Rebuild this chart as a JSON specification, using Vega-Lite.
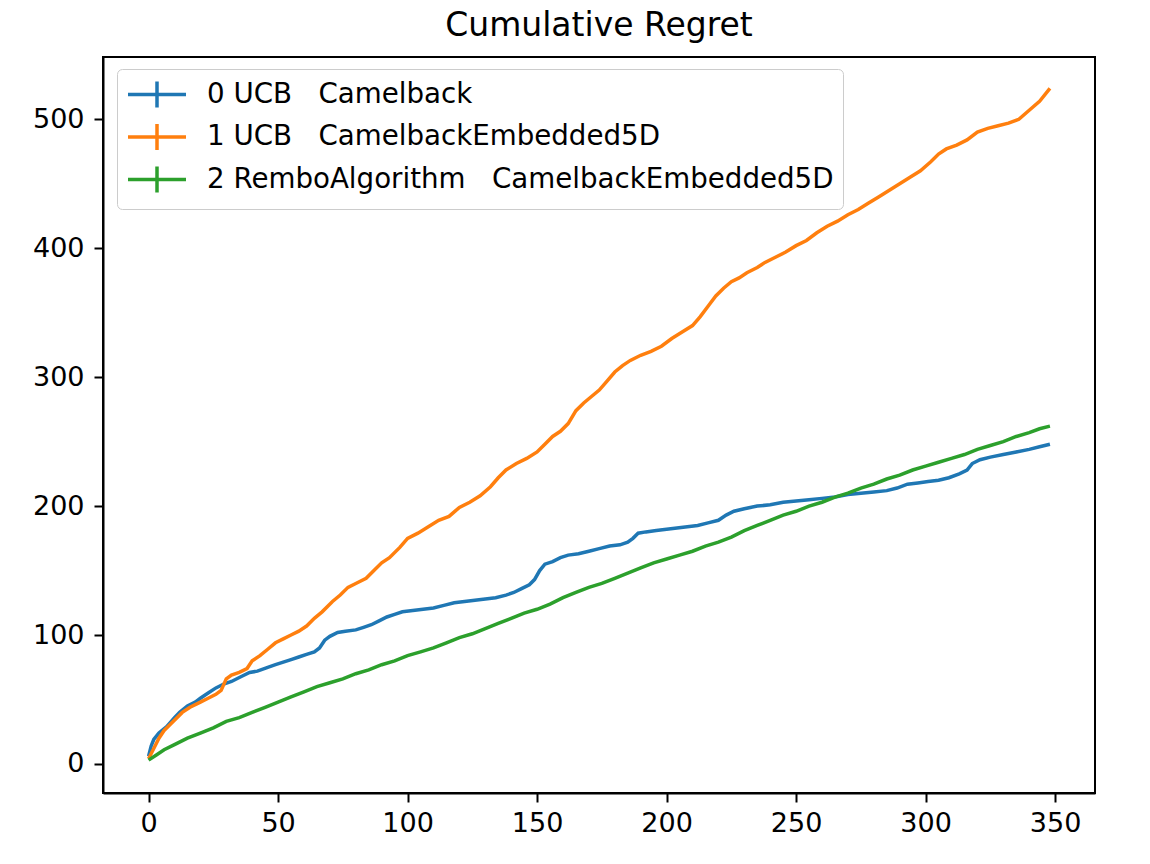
{
  "$schema": "https://vega.github.io/schema/vega-lite/v6.json",
  "width": 992,
  "height": 736,
  "autosize": {"type": "none"},
  "padding": {"left": 103, "top": 57, "right": 55, "bottom": 71},
  "background": "white",
  "title": {"text": "Cumulative Regret", "font": "DejaVu Sans", "fontSize": 33, "fontWeight": "normal", "color": "black", "anchor": "middle", "frame": "group", "offset": 14},
  "config": {
    "view": {"stroke": "black", "strokeWidth": 2},
    "axis": {"domainColor": "black", "domainWidth": 2, "tickColor": "black", "tickWidth": 2, "tickSize": 9, "labelFont": "DejaVu Sans", "labelFontSize": 27, "labelColor": "black", "grid": false, "title": null}
  },
  "data": {"values": [
    {"x":0,"y":6,"s":"0 UCB\u00a0\u00a0\u00a0Camelback"},{"x":1,"y":14,"s":"0 UCB\u00a0\u00a0\u00a0Camelback"},{"x":2,"y":19,"s":"0 UCB\u00a0\u00a0\u00a0Camelback"},{"x":4,"y":24,"s":"0 UCB\u00a0\u00a0\u00a0Camelback"},{"x":7,"y":29,"s":"0 UCB\u00a0\u00a0\u00a0Camelback"},{"x":10,"y":36,"s":"0 UCB\u00a0\u00a0\u00a0Camelback"},{"x":12,"y":40,"s":"0 UCB\u00a0\u00a0\u00a0Camelback"},{"x":15,"y":45,"s":"0 UCB\u00a0\u00a0\u00a0Camelback"},{"x":18,"y":48,"s":"0 UCB\u00a0\u00a0\u00a0Camelback"},{"x":20,"y":51,"s":"0 UCB\u00a0\u00a0\u00a0Camelback"},{"x":23,"y":55,"s":"0 UCB\u00a0\u00a0\u00a0Camelback"},{"x":26,"y":59,"s":"0 UCB\u00a0\u00a0\u00a0Camelback"},{"x":29,"y":62,"s":"0 UCB\u00a0\u00a0\u00a0Camelback"},{"x":32,"y":64,"s":"0 UCB\u00a0\u00a0\u00a0Camelback"},{"x":36,"y":68,"s":"0 UCB\u00a0\u00a0\u00a0Camelback"},{"x":39,"y":71,"s":"0 UCB\u00a0\u00a0\u00a0Camelback"},{"x":42,"y":72,"s":"0 UCB\u00a0\u00a0\u00a0Camelback"},{"x":46,"y":75,"s":"0 UCB\u00a0\u00a0\u00a0Camelback"},{"x":49,"y":77,"s":"0 UCB\u00a0\u00a0\u00a0Camelback"},{"x":52,"y":79,"s":"0 UCB\u00a0\u00a0\u00a0Camelback"},{"x":55,"y":81,"s":"0 UCB\u00a0\u00a0\u00a0Camelback"},{"x":58,"y":83,"s":"0 UCB\u00a0\u00a0\u00a0Camelback"},{"x":61,"y":85,"s":"0 UCB\u00a0\u00a0\u00a0Camelback"},{"x":64,"y":87,"s":"0 UCB\u00a0\u00a0\u00a0Camelback"},{"x":66,"y":90,"s":"0 UCB\u00a0\u00a0\u00a0Camelback"},{"x":68,"y":96,"s":"0 UCB\u00a0\u00a0\u00a0Camelback"},{"x":70,"y":99,"s":"0 UCB\u00a0\u00a0\u00a0Camelback"},{"x":73,"y":102,"s":"0 UCB\u00a0\u00a0\u00a0Camelback"},{"x":76,"y":103,"s":"0 UCB\u00a0\u00a0\u00a0Camelback"},{"x":80,"y":104,"s":"0 UCB\u00a0\u00a0\u00a0Camelback"},{"x":83,"y":106,"s":"0 UCB\u00a0\u00a0\u00a0Camelback"},{"x":86,"y":108,"s":"0 UCB\u00a0\u00a0\u00a0Camelback"},{"x":89,"y":111,"s":"0 UCB\u00a0\u00a0\u00a0Camelback"},{"x":92,"y":114,"s":"0 UCB\u00a0\u00a0\u00a0Camelback"},{"x":95,"y":116,"s":"0 UCB\u00a0\u00a0\u00a0Camelback"},{"x":98,"y":118,"s":"0 UCB\u00a0\u00a0\u00a0Camelback"},{"x":102,"y":119,"s":"0 UCB\u00a0\u00a0\u00a0Camelback"},{"x":106,"y":120,"s":"0 UCB\u00a0\u00a0\u00a0Camelback"},{"x":110,"y":121,"s":"0 UCB\u00a0\u00a0\u00a0Camelback"},{"x":114,"y":123,"s":"0 UCB\u00a0\u00a0\u00a0Camelback"},{"x":118,"y":125,"s":"0 UCB\u00a0\u00a0\u00a0Camelback"},{"x":122,"y":126,"s":"0 UCB\u00a0\u00a0\u00a0Camelback"},{"x":126,"y":127,"s":"0 UCB\u00a0\u00a0\u00a0Camelback"},{"x":130,"y":128,"s":"0 UCB\u00a0\u00a0\u00a0Camelback"},{"x":134,"y":129,"s":"0 UCB\u00a0\u00a0\u00a0Camelback"},{"x":138,"y":131,"s":"0 UCB\u00a0\u00a0\u00a0Camelback"},{"x":141,"y":133,"s":"0 UCB\u00a0\u00a0\u00a0Camelback"},{"x":144,"y":136,"s":"0 UCB\u00a0\u00a0\u00a0Camelback"},{"x":147,"y":139,"s":"0 UCB\u00a0\u00a0\u00a0Camelback"},{"x":149,"y":143,"s":"0 UCB\u00a0\u00a0\u00a0Camelback"},{"x":151,"y":150,"s":"0 UCB\u00a0\u00a0\u00a0Camelback"},{"x":153,"y":155,"s":"0 UCB\u00a0\u00a0\u00a0Camelback"},{"x":156,"y":157,"s":"0 UCB\u00a0\u00a0\u00a0Camelback"},{"x":159,"y":160,"s":"0 UCB\u00a0\u00a0\u00a0Camelback"},{"x":162,"y":162,"s":"0 UCB\u00a0\u00a0\u00a0Camelback"},{"x":166,"y":163,"s":"0 UCB\u00a0\u00a0\u00a0Camelback"},{"x":170,"y":165,"s":"0 UCB\u00a0\u00a0\u00a0Camelback"},{"x":174,"y":167,"s":"0 UCB\u00a0\u00a0\u00a0Camelback"},{"x":178,"y":169,"s":"0 UCB\u00a0\u00a0\u00a0Camelback"},{"x":182,"y":170,"s":"0 UCB\u00a0\u00a0\u00a0Camelback"},{"x":185,"y":172,"s":"0 UCB\u00a0\u00a0\u00a0Camelback"},{"x":187,"y":175,"s":"0 UCB\u00a0\u00a0\u00a0Camelback"},{"x":189,"y":179,"s":"0 UCB\u00a0\u00a0\u00a0Camelback"},{"x":192,"y":180,"s":"0 UCB\u00a0\u00a0\u00a0Camelback"},{"x":196,"y":181,"s":"0 UCB\u00a0\u00a0\u00a0Camelback"},{"x":200,"y":182,"s":"0 UCB\u00a0\u00a0\u00a0Camelback"},{"x":204,"y":183,"s":"0 UCB\u00a0\u00a0\u00a0Camelback"},{"x":208,"y":184,"s":"0 UCB\u00a0\u00a0\u00a0Camelback"},{"x":212,"y":185,"s":"0 UCB\u00a0\u00a0\u00a0Camelback"},{"x":216,"y":187,"s":"0 UCB\u00a0\u00a0\u00a0Camelback"},{"x":220,"y":189,"s":"0 UCB\u00a0\u00a0\u00a0Camelback"},{"x":223,"y":193,"s":"0 UCB\u00a0\u00a0\u00a0Camelback"},{"x":226,"y":196,"s":"0 UCB\u00a0\u00a0\u00a0Camelback"},{"x":230,"y":198,"s":"0 UCB\u00a0\u00a0\u00a0Camelback"},{"x":235,"y":200,"s":"0 UCB\u00a0\u00a0\u00a0Camelback"},{"x":240,"y":201,"s":"0 UCB\u00a0\u00a0\u00a0Camelback"},{"x":245,"y":203,"s":"0 UCB\u00a0\u00a0\u00a0Camelback"},{"x":250,"y":204,"s":"0 UCB\u00a0\u00a0\u00a0Camelback"},{"x":255,"y":205,"s":"0 UCB\u00a0\u00a0\u00a0Camelback"},{"x":260,"y":206,"s":"0 UCB\u00a0\u00a0\u00a0Camelback"},{"x":265,"y":207,"s":"0 UCB\u00a0\u00a0\u00a0Camelback"},{"x":270,"y":209,"s":"0 UCB\u00a0\u00a0\u00a0Camelback"},{"x":275,"y":210,"s":"0 UCB\u00a0\u00a0\u00a0Camelback"},{"x":280,"y":211,"s":"0 UCB\u00a0\u00a0\u00a0Camelback"},{"x":285,"y":212,"s":"0 UCB\u00a0\u00a0\u00a0Camelback"},{"x":289,"y":214,"s":"0 UCB\u00a0\u00a0\u00a0Camelback"},{"x":293,"y":217,"s":"0 UCB\u00a0\u00a0\u00a0Camelback"},{"x":297,"y":218,"s":"0 UCB\u00a0\u00a0\u00a0Camelback"},{"x":301,"y":219,"s":"0 UCB\u00a0\u00a0\u00a0Camelback"},{"x":305,"y":220,"s":"0 UCB\u00a0\u00a0\u00a0Camelback"},{"x":309,"y":222,"s":"0 UCB\u00a0\u00a0\u00a0Camelback"},{"x":313,"y":225,"s":"0 UCB\u00a0\u00a0\u00a0Camelback"},{"x":316,"y":228,"s":"0 UCB\u00a0\u00a0\u00a0Camelback"},{"x":318,"y":233,"s":"0 UCB\u00a0\u00a0\u00a0Camelback"},{"x":321,"y":236,"s":"0 UCB\u00a0\u00a0\u00a0Camelback"},{"x":325,"y":238,"s":"0 UCB\u00a0\u00a0\u00a0Camelback"},{"x":330,"y":240,"s":"0 UCB\u00a0\u00a0\u00a0Camelback"},{"x":335,"y":242,"s":"0 UCB\u00a0\u00a0\u00a0Camelback"},{"x":340,"y":244,"s":"0 UCB\u00a0\u00a0\u00a0Camelback"},{"x":344,"y":246,"s":"0 UCB\u00a0\u00a0\u00a0Camelback"},{"x":348,"y":248,"s":"0 UCB\u00a0\u00a0\u00a0Camelback"},
    {"x":0,"y":4,"s":"1 UCB\u00a0\u00a0\u00a0CamelbackEmbedded5D"},{"x":2,"y":12,"s":"1 UCB\u00a0\u00a0\u00a0CamelbackEmbedded5D"},{"x":4,"y":20,"s":"1 UCB\u00a0\u00a0\u00a0CamelbackEmbedded5D"},{"x":6,"y":26,"s":"1 UCB\u00a0\u00a0\u00a0CamelbackEmbedded5D"},{"x":9,"y":32,"s":"1 UCB\u00a0\u00a0\u00a0CamelbackEmbedded5D"},{"x":13,"y":40,"s":"1 UCB\u00a0\u00a0\u00a0CamelbackEmbedded5D"},{"x":16,"y":44,"s":"1 UCB\u00a0\u00a0\u00a0CamelbackEmbedded5D"},{"x":20,"y":48,"s":"1 UCB\u00a0\u00a0\u00a0CamelbackEmbedded5D"},{"x":23,"y":51,"s":"1 UCB\u00a0\u00a0\u00a0CamelbackEmbedded5D"},{"x":26,"y":54,"s":"1 UCB\u00a0\u00a0\u00a0CamelbackEmbedded5D"},{"x":28,"y":57,"s":"1 UCB\u00a0\u00a0\u00a0CamelbackEmbedded5D"},{"x":30,"y":66,"s":"1 UCB\u00a0\u00a0\u00a0CamelbackEmbedded5D"},{"x":32,"y":69,"s":"1 UCB\u00a0\u00a0\u00a0CamelbackEmbedded5D"},{"x":35,"y":71,"s":"1 UCB\u00a0\u00a0\u00a0CamelbackEmbedded5D"},{"x":38,"y":74,"s":"1 UCB\u00a0\u00a0\u00a0CamelbackEmbedded5D"},{"x":40,"y":80,"s":"1 UCB\u00a0\u00a0\u00a0CamelbackEmbedded5D"},{"x":43,"y":84,"s":"1 UCB\u00a0\u00a0\u00a0CamelbackEmbedded5D"},{"x":46,"y":89,"s":"1 UCB\u00a0\u00a0\u00a0CamelbackEmbedded5D"},{"x":49,"y":94,"s":"1 UCB\u00a0\u00a0\u00a0CamelbackEmbedded5D"},{"x":52,"y":97,"s":"1 UCB\u00a0\u00a0\u00a0CamelbackEmbedded5D"},{"x":55,"y":100,"s":"1 UCB\u00a0\u00a0\u00a0CamelbackEmbedded5D"},{"x":58,"y":103,"s":"1 UCB\u00a0\u00a0\u00a0CamelbackEmbedded5D"},{"x":61,"y":107,"s":"1 UCB\u00a0\u00a0\u00a0CamelbackEmbedded5D"},{"x":64,"y":113,"s":"1 UCB\u00a0\u00a0\u00a0CamelbackEmbedded5D"},{"x":67,"y":118,"s":"1 UCB\u00a0\u00a0\u00a0CamelbackEmbedded5D"},{"x":71,"y":126,"s":"1 UCB\u00a0\u00a0\u00a0CamelbackEmbedded5D"},{"x":74,"y":131,"s":"1 UCB\u00a0\u00a0\u00a0CamelbackEmbedded5D"},{"x":77,"y":137,"s":"1 UCB\u00a0\u00a0\u00a0CamelbackEmbedded5D"},{"x":80,"y":140,"s":"1 UCB\u00a0\u00a0\u00a0CamelbackEmbedded5D"},{"x":84,"y":144,"s":"1 UCB\u00a0\u00a0\u00a0CamelbackEmbedded5D"},{"x":87,"y":150,"s":"1 UCB\u00a0\u00a0\u00a0CamelbackEmbedded5D"},{"x":90,"y":156,"s":"1 UCB\u00a0\u00a0\u00a0CamelbackEmbedded5D"},{"x":93,"y":160,"s":"1 UCB\u00a0\u00a0\u00a0CamelbackEmbedded5D"},{"x":97,"y":168,"s":"1 UCB\u00a0\u00a0\u00a0CamelbackEmbedded5D"},{"x":100,"y":175,"s":"1 UCB\u00a0\u00a0\u00a0CamelbackEmbedded5D"},{"x":104,"y":179,"s":"1 UCB\u00a0\u00a0\u00a0CamelbackEmbedded5D"},{"x":108,"y":184,"s":"1 UCB\u00a0\u00a0\u00a0CamelbackEmbedded5D"},{"x":112,"y":189,"s":"1 UCB\u00a0\u00a0\u00a0CamelbackEmbedded5D"},{"x":116,"y":192,"s":"1 UCB\u00a0\u00a0\u00a0CamelbackEmbedded5D"},{"x":120,"y":199,"s":"1 UCB\u00a0\u00a0\u00a0CamelbackEmbedded5D"},{"x":124,"y":203,"s":"1 UCB\u00a0\u00a0\u00a0CamelbackEmbedded5D"},{"x":128,"y":208,"s":"1 UCB\u00a0\u00a0\u00a0CamelbackEmbedded5D"},{"x":132,"y":215,"s":"1 UCB\u00a0\u00a0\u00a0CamelbackEmbedded5D"},{"x":135,"y":222,"s":"1 UCB\u00a0\u00a0\u00a0CamelbackEmbedded5D"},{"x":138,"y":228,"s":"1 UCB\u00a0\u00a0\u00a0CamelbackEmbedded5D"},{"x":142,"y":233,"s":"1 UCB\u00a0\u00a0\u00a0CamelbackEmbedded5D"},{"x":146,"y":237,"s":"1 UCB\u00a0\u00a0\u00a0CamelbackEmbedded5D"},{"x":150,"y":242,"s":"1 UCB\u00a0\u00a0\u00a0CamelbackEmbedded5D"},{"x":153,"y":248,"s":"1 UCB\u00a0\u00a0\u00a0CamelbackEmbedded5D"},{"x":156,"y":254,"s":"1 UCB\u00a0\u00a0\u00a0CamelbackEmbedded5D"},{"x":159,"y":258,"s":"1 UCB\u00a0\u00a0\u00a0CamelbackEmbedded5D"},{"x":162,"y":264,"s":"1 UCB\u00a0\u00a0\u00a0CamelbackEmbedded5D"},{"x":165,"y":274,"s":"1 UCB\u00a0\u00a0\u00a0CamelbackEmbedded5D"},{"x":168,"y":280,"s":"1 UCB\u00a0\u00a0\u00a0CamelbackEmbedded5D"},{"x":171,"y":285,"s":"1 UCB\u00a0\u00a0\u00a0CamelbackEmbedded5D"},{"x":174,"y":290,"s":"1 UCB\u00a0\u00a0\u00a0CamelbackEmbedded5D"},{"x":177,"y":297,"s":"1 UCB\u00a0\u00a0\u00a0CamelbackEmbedded5D"},{"x":180,"y":304,"s":"1 UCB\u00a0\u00a0\u00a0CamelbackEmbedded5D"},{"x":183,"y":309,"s":"1 UCB\u00a0\u00a0\u00a0CamelbackEmbedded5D"},{"x":186,"y":313,"s":"1 UCB\u00a0\u00a0\u00a0CamelbackEmbedded5D"},{"x":190,"y":317,"s":"1 UCB\u00a0\u00a0\u00a0CamelbackEmbedded5D"},{"x":194,"y":320,"s":"1 UCB\u00a0\u00a0\u00a0CamelbackEmbedded5D"},{"x":198,"y":324,"s":"1 UCB\u00a0\u00a0\u00a0CamelbackEmbedded5D"},{"x":202,"y":330,"s":"1 UCB\u00a0\u00a0\u00a0CamelbackEmbedded5D"},{"x":206,"y":335,"s":"1 UCB\u00a0\u00a0\u00a0CamelbackEmbedded5D"},{"x":210,"y":340,"s":"1 UCB\u00a0\u00a0\u00a0CamelbackEmbedded5D"},{"x":213,"y":347,"s":"1 UCB\u00a0\u00a0\u00a0CamelbackEmbedded5D"},{"x":216,"y":355,"s":"1 UCB\u00a0\u00a0\u00a0CamelbackEmbedded5D"},{"x":219,"y":363,"s":"1 UCB\u00a0\u00a0\u00a0CamelbackEmbedded5D"},{"x":222,"y":369,"s":"1 UCB\u00a0\u00a0\u00a0CamelbackEmbedded5D"},{"x":225,"y":374,"s":"1 UCB\u00a0\u00a0\u00a0CamelbackEmbedded5D"},{"x":228,"y":377,"s":"1 UCB\u00a0\u00a0\u00a0CamelbackEmbedded5D"},{"x":231,"y":381,"s":"1 UCB\u00a0\u00a0\u00a0CamelbackEmbedded5D"},{"x":235,"y":385,"s":"1 UCB\u00a0\u00a0\u00a0CamelbackEmbedded5D"},{"x":238,"y":389,"s":"1 UCB\u00a0\u00a0\u00a0CamelbackEmbedded5D"},{"x":242,"y":393,"s":"1 UCB\u00a0\u00a0\u00a0CamelbackEmbedded5D"},{"x":246,"y":397,"s":"1 UCB\u00a0\u00a0\u00a0CamelbackEmbedded5D"},{"x":250,"y":402,"s":"1 UCB\u00a0\u00a0\u00a0CamelbackEmbedded5D"},{"x":254,"y":406,"s":"1 UCB\u00a0\u00a0\u00a0CamelbackEmbedded5D"},{"x":258,"y":412,"s":"1 UCB\u00a0\u00a0\u00a0CamelbackEmbedded5D"},{"x":262,"y":417,"s":"1 UCB\u00a0\u00a0\u00a0CamelbackEmbedded5D"},{"x":266,"y":421,"s":"1 UCB\u00a0\u00a0\u00a0CamelbackEmbedded5D"},{"x":270,"y":426,"s":"1 UCB\u00a0\u00a0\u00a0CamelbackEmbedded5D"},{"x":274,"y":430,"s":"1 UCB\u00a0\u00a0\u00a0CamelbackEmbedded5D"},{"x":278,"y":435,"s":"1 UCB\u00a0\u00a0\u00a0CamelbackEmbedded5D"},{"x":282,"y":440,"s":"1 UCB\u00a0\u00a0\u00a0CamelbackEmbedded5D"},{"x":286,"y":445,"s":"1 UCB\u00a0\u00a0\u00a0CamelbackEmbedded5D"},{"x":290,"y":450,"s":"1 UCB\u00a0\u00a0\u00a0CamelbackEmbedded5D"},{"x":294,"y":455,"s":"1 UCB\u00a0\u00a0\u00a0CamelbackEmbedded5D"},{"x":298,"y":460,"s":"1 UCB\u00a0\u00a0\u00a0CamelbackEmbedded5D"},{"x":302,"y":467,"s":"1 UCB\u00a0\u00a0\u00a0CamelbackEmbedded5D"},{"x":305,"y":473,"s":"1 UCB\u00a0\u00a0\u00a0CamelbackEmbedded5D"},{"x":308,"y":477,"s":"1 UCB\u00a0\u00a0\u00a0CamelbackEmbedded5D"},{"x":312,"y":480,"s":"1 UCB\u00a0\u00a0\u00a0CamelbackEmbedded5D"},{"x":316,"y":484,"s":"1 UCB\u00a0\u00a0\u00a0CamelbackEmbedded5D"},{"x":320,"y":490,"s":"1 UCB\u00a0\u00a0\u00a0CamelbackEmbedded5D"},{"x":324,"y":493,"s":"1 UCB\u00a0\u00a0\u00a0CamelbackEmbedded5D"},{"x":328,"y":495,"s":"1 UCB\u00a0\u00a0\u00a0CamelbackEmbedded5D"},{"x":332,"y":497,"s":"1 UCB\u00a0\u00a0\u00a0CamelbackEmbedded5D"},{"x":336,"y":500,"s":"1 UCB\u00a0\u00a0\u00a0CamelbackEmbedded5D"},{"x":340,"y":507,"s":"1 UCB\u00a0\u00a0\u00a0CamelbackEmbedded5D"},{"x":344,"y":514,"s":"1 UCB\u00a0\u00a0\u00a0CamelbackEmbedded5D"},{"x":348,"y":524,"s":"1 UCB\u00a0\u00a0\u00a0CamelbackEmbedded5D"},
    {"x":0,"y":3,"s":"2 RemboAlgorithm\u00a0\u00a0\u00a0CamelbackEmbedded5D"},{"x":3,"y":7,"s":"2 RemboAlgorithm\u00a0\u00a0\u00a0CamelbackEmbedded5D"},{"x":6,"y":11,"s":"2 RemboAlgorithm\u00a0\u00a0\u00a0CamelbackEmbedded5D"},{"x":10,"y":15,"s":"2 RemboAlgorithm\u00a0\u00a0\u00a0CamelbackEmbedded5D"},{"x":15,"y":20,"s":"2 RemboAlgorithm\u00a0\u00a0\u00a0CamelbackEmbedded5D"},{"x":20,"y":24,"s":"2 RemboAlgorithm\u00a0\u00a0\u00a0CamelbackEmbedded5D"},{"x":25,"y":28,"s":"2 RemboAlgorithm\u00a0\u00a0\u00a0CamelbackEmbedded5D"},{"x":30,"y":33,"s":"2 RemboAlgorithm\u00a0\u00a0\u00a0CamelbackEmbedded5D"},{"x":35,"y":36,"s":"2 RemboAlgorithm\u00a0\u00a0\u00a0CamelbackEmbedded5D"},{"x":40,"y":40,"s":"2 RemboAlgorithm\u00a0\u00a0\u00a0CamelbackEmbedded5D"},{"x":45,"y":44,"s":"2 RemboAlgorithm\u00a0\u00a0\u00a0CamelbackEmbedded5D"},{"x":50,"y":48,"s":"2 RemboAlgorithm\u00a0\u00a0\u00a0CamelbackEmbedded5D"},{"x":55,"y":52,"s":"2 RemboAlgorithm\u00a0\u00a0\u00a0CamelbackEmbedded5D"},{"x":60,"y":56,"s":"2 RemboAlgorithm\u00a0\u00a0\u00a0CamelbackEmbedded5D"},{"x":65,"y":60,"s":"2 RemboAlgorithm\u00a0\u00a0\u00a0CamelbackEmbedded5D"},{"x":70,"y":63,"s":"2 RemboAlgorithm\u00a0\u00a0\u00a0CamelbackEmbedded5D"},{"x":75,"y":66,"s":"2 RemboAlgorithm\u00a0\u00a0\u00a0CamelbackEmbedded5D"},{"x":80,"y":70,"s":"2 RemboAlgorithm\u00a0\u00a0\u00a0CamelbackEmbedded5D"},{"x":85,"y":73,"s":"2 RemboAlgorithm\u00a0\u00a0\u00a0CamelbackEmbedded5D"},{"x":90,"y":77,"s":"2 RemboAlgorithm\u00a0\u00a0\u00a0CamelbackEmbedded5D"},{"x":95,"y":80,"s":"2 RemboAlgorithm\u00a0\u00a0\u00a0CamelbackEmbedded5D"},{"x":100,"y":84,"s":"2 RemboAlgorithm\u00a0\u00a0\u00a0CamelbackEmbedded5D"},{"x":105,"y":87,"s":"2 RemboAlgorithm\u00a0\u00a0\u00a0CamelbackEmbedded5D"},{"x":110,"y":90,"s":"2 RemboAlgorithm\u00a0\u00a0\u00a0CamelbackEmbedded5D"},{"x":115,"y":94,"s":"2 RemboAlgorithm\u00a0\u00a0\u00a0CamelbackEmbedded5D"},{"x":120,"y":98,"s":"2 RemboAlgorithm\u00a0\u00a0\u00a0CamelbackEmbedded5D"},{"x":125,"y":101,"s":"2 RemboAlgorithm\u00a0\u00a0\u00a0CamelbackEmbedded5D"},{"x":130,"y":105,"s":"2 RemboAlgorithm\u00a0\u00a0\u00a0CamelbackEmbedded5D"},{"x":135,"y":109,"s":"2 RemboAlgorithm\u00a0\u00a0\u00a0CamelbackEmbedded5D"},{"x":140,"y":113,"s":"2 RemboAlgorithm\u00a0\u00a0\u00a0CamelbackEmbedded5D"},{"x":145,"y":117,"s":"2 RemboAlgorithm\u00a0\u00a0\u00a0CamelbackEmbedded5D"},{"x":150,"y":120,"s":"2 RemboAlgorithm\u00a0\u00a0\u00a0CamelbackEmbedded5D"},{"x":155,"y":124,"s":"2 RemboAlgorithm\u00a0\u00a0\u00a0CamelbackEmbedded5D"},{"x":160,"y":129,"s":"2 RemboAlgorithm\u00a0\u00a0\u00a0CamelbackEmbedded5D"},{"x":165,"y":133,"s":"2 RemboAlgorithm\u00a0\u00a0\u00a0CamelbackEmbedded5D"},{"x":170,"y":137,"s":"2 RemboAlgorithm\u00a0\u00a0\u00a0CamelbackEmbedded5D"},{"x":175,"y":140,"s":"2 RemboAlgorithm\u00a0\u00a0\u00a0CamelbackEmbedded5D"},{"x":180,"y":144,"s":"2 RemboAlgorithm\u00a0\u00a0\u00a0CamelbackEmbedded5D"},{"x":185,"y":148,"s":"2 RemboAlgorithm\u00a0\u00a0\u00a0CamelbackEmbedded5D"},{"x":190,"y":152,"s":"2 RemboAlgorithm\u00a0\u00a0\u00a0CamelbackEmbedded5D"},{"x":195,"y":156,"s":"2 RemboAlgorithm\u00a0\u00a0\u00a0CamelbackEmbedded5D"},{"x":200,"y":159,"s":"2 RemboAlgorithm\u00a0\u00a0\u00a0CamelbackEmbedded5D"},{"x":205,"y":162,"s":"2 RemboAlgorithm\u00a0\u00a0\u00a0CamelbackEmbedded5D"},{"x":210,"y":165,"s":"2 RemboAlgorithm\u00a0\u00a0\u00a0CamelbackEmbedded5D"},{"x":215,"y":169,"s":"2 RemboAlgorithm\u00a0\u00a0\u00a0CamelbackEmbedded5D"},{"x":220,"y":172,"s":"2 RemboAlgorithm\u00a0\u00a0\u00a0CamelbackEmbedded5D"},{"x":225,"y":176,"s":"2 RemboAlgorithm\u00a0\u00a0\u00a0CamelbackEmbedded5D"},{"x":230,"y":181,"s":"2 RemboAlgorithm\u00a0\u00a0\u00a0CamelbackEmbedded5D"},{"x":235,"y":185,"s":"2 RemboAlgorithm\u00a0\u00a0\u00a0CamelbackEmbedded5D"},{"x":240,"y":189,"s":"2 RemboAlgorithm\u00a0\u00a0\u00a0CamelbackEmbedded5D"},{"x":245,"y":193,"s":"2 RemboAlgorithm\u00a0\u00a0\u00a0CamelbackEmbedded5D"},{"x":250,"y":196,"s":"2 RemboAlgorithm\u00a0\u00a0\u00a0CamelbackEmbedded5D"},{"x":255,"y":200,"s":"2 RemboAlgorithm\u00a0\u00a0\u00a0CamelbackEmbedded5D"},{"x":260,"y":203,"s":"2 RemboAlgorithm\u00a0\u00a0\u00a0CamelbackEmbedded5D"},{"x":265,"y":207,"s":"2 RemboAlgorithm\u00a0\u00a0\u00a0CamelbackEmbedded5D"},{"x":270,"y":210,"s":"2 RemboAlgorithm\u00a0\u00a0\u00a0CamelbackEmbedded5D"},{"x":275,"y":214,"s":"2 RemboAlgorithm\u00a0\u00a0\u00a0CamelbackEmbedded5D"},{"x":280,"y":217,"s":"2 RemboAlgorithm\u00a0\u00a0\u00a0CamelbackEmbedded5D"},{"x":285,"y":221,"s":"2 RemboAlgorithm\u00a0\u00a0\u00a0CamelbackEmbedded5D"},{"x":290,"y":224,"s":"2 RemboAlgorithm\u00a0\u00a0\u00a0CamelbackEmbedded5D"},{"x":295,"y":228,"s":"2 RemboAlgorithm\u00a0\u00a0\u00a0CamelbackEmbedded5D"},{"x":300,"y":231,"s":"2 RemboAlgorithm\u00a0\u00a0\u00a0CamelbackEmbedded5D"},{"x":305,"y":234,"s":"2 RemboAlgorithm\u00a0\u00a0\u00a0CamelbackEmbedded5D"},{"x":310,"y":237,"s":"2 RemboAlgorithm\u00a0\u00a0\u00a0CamelbackEmbedded5D"},{"x":315,"y":240,"s":"2 RemboAlgorithm\u00a0\u00a0\u00a0CamelbackEmbedded5D"},{"x":320,"y":244,"s":"2 RemboAlgorithm\u00a0\u00a0\u00a0CamelbackEmbedded5D"},{"x":325,"y":247,"s":"2 RemboAlgorithm\u00a0\u00a0\u00a0CamelbackEmbedded5D"},{"x":330,"y":250,"s":"2 RemboAlgorithm\u00a0\u00a0\u00a0CamelbackEmbedded5D"},{"x":335,"y":254,"s":"2 RemboAlgorithm\u00a0\u00a0\u00a0CamelbackEmbedded5D"},{"x":340,"y":257,"s":"2 RemboAlgorithm\u00a0\u00a0\u00a0CamelbackEmbedded5D"},{"x":344,"y":260,"s":"2 RemboAlgorithm\u00a0\u00a0\u00a0CamelbackEmbedded5D"},{"x":348,"y":262,"s":"2 RemboAlgorithm\u00a0\u00a0\u00a0CamelbackEmbedded5D"}
  ]},
  "mark": {"type": "line", "strokeWidth": 3.5, "clip": true},
  "encoding": {
    "x": {"field": "x", "type": "quantitative", "scale": {"domain": [-17.6, 365.4], "nice": false, "zero": false}, "axis": {"values": [0, 50, 100, 150, 200, 250, 300, 350], "labelPadding": 8}},
    "y": {"field": "y", "type": "quantitative", "scale": {"domain": [-22.5, 548.3], "nice": false, "zero": false}, "axis": {"values": [0, 100, 200, 300, 400, 500], "labelPadding": 10}},
    "color": {"field": "s", "type": "nominal", "title": null,
      "scale": {"range": ["#1f77b4", "#ff7f0e", "#2ca02c"]},
      "legend": {"orient": "none", "legendX": 14, "legendY": 12, "padding": 9, "rowPadding": 1.5,
        "symbolType": "M-1,0H3M1,-0.9V0.9", "symbolSize": 841, "symbolStrokeWidth": 3.5, "symbolFillColor": "transparent",
        "labelFont": "DejaVu Sans", "labelFontSize": 27.7, "labelColor": "black", "labelOffset": 48, "labelLimit": 0,
        "strokeColor": "#cccccc", "cornerRadius": 5, "fillColor": "rgba(255,255,255,0.8)"}}
  }
}
